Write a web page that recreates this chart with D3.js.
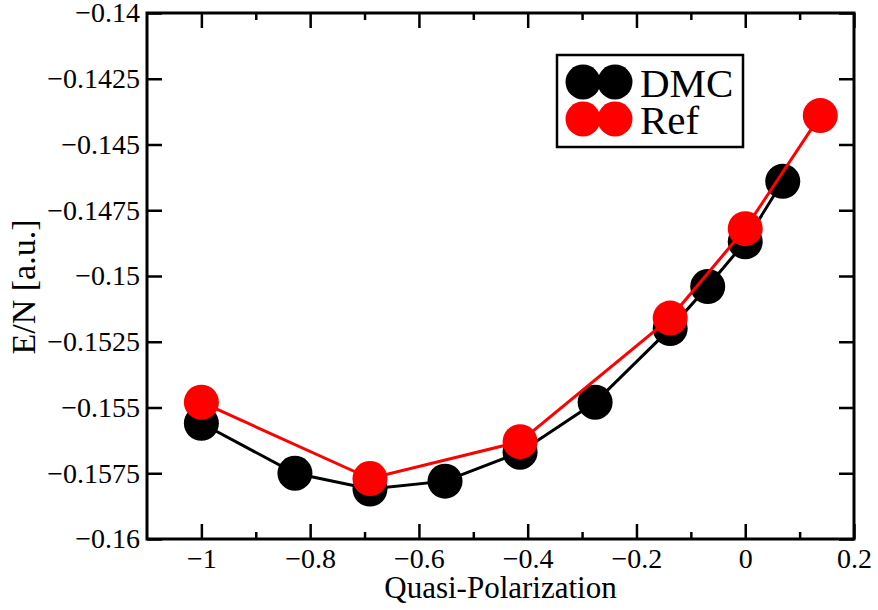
<!DOCTYPE html>
<html>
<head>
<meta charset="utf-8">
<script src="https://cdn.jsdelivr.net/npm/d3@7"></script>
<style>
  html, body { margin: 0; padding: 0; background: #fff; }
</style>
</head>
<body>
<svg id="chart" width="878" height="610"></svg>
<script>
// Energy per particle vs. quasi-polarization
const dmcX = [-1.0, -0.828, -0.690, -0.552, -0.414, -0.276, -0.138, -0.069, 0.0, 0.069];
const dmcY = [-0.1556, -0.1575, -0.1581, -0.1578, -0.1567, -0.1548, -0.1520, -0.1504, -0.1487, -0.1464];
const refX = [-1.0, -0.690, -0.414, -0.138, 0.0, 0.138];
const refY = [-0.1548, -0.1577, -0.1563, -0.1516, -0.1482, -0.1439];

const xTicks = [-1, -0.8, -0.6, -0.4, -0.2, 0, 0.2];
const xMinorTicks = [-0.9, -0.7, -0.5, -0.3, -0.1, 0.1];
const yTicks = [-0.16, -0.1575, -0.155, -0.1525, -0.15, -0.1475, -0.145, -0.1425, -0.14];
const yTickLabels = ["\u22120.16", "\u22120.1575", "\u22120.155", "\u22120.1525", "\u22120.15", "\u22120.1475", "\u22120.145", "\u22120.1425", "\u22120.14"];
const xTickLabels = ["\u22121", "\u22120.8", "\u22120.6", "\u22120.4", "\u22120.2", "0", "0.2"];

const seriesNames = ["DMC", "Ref"];
const seriesColors = ["#000000", "#ff0000"];

const FONT = "'Liberation Serif', 'Times New Roman', serif";
const W = 878, H = 610;
const margin = { left: 147, right: 24, top: 13, bottom: 71 };
const iw = W - margin.left - margin.right;
const ih = H - margin.top - margin.bottom;

const svg = d3.select("#chart");
const g = svg.append("g").attr("transform", `translate(${margin.left},${margin.top})`);

const x = d3.scaleLinear().domain([-1.1, 0.2]).range([0, iw]);
const y = d3.scaleLinear().domain([-0.16, -0.14]).range([ih, 0]);

const major = 15, minor = 7;

// Inward ticks on all four sides
function tickAxis(axisGen, transform) {
  const a = g.append("g").attr("transform", transform).call(axisGen);
  a.attr("font-family", FONT);
  a.select(".domain").remove();
  a.selectAll("line").attr("stroke", "#000").attr("stroke-width", 2.5);
  a.selectAll("text").attr("fill", "#000").attr("font-family", FONT).attr("font-size", 28);
  return a;
}

tickAxis(
  d3.axisBottom(x).tickValues(xTicks).tickSize(-major).tickPadding(9)
    .tickFormat((d, i) => xTickLabels[i]),
  `translate(0,${ih})`);
tickAxis(d3.axisBottom(x).tickValues(xMinorTicks).tickSize(-minor).tickFormat(""), `translate(0,${ih})`);
tickAxis(d3.axisTop(x).tickValues(xTicks).tickSize(-major).tickFormat(""), "translate(0,0)");
tickAxis(d3.axisTop(x).tickValues(xMinorTicks).tickSize(-minor).tickFormat(""), "translate(0,0)");

tickAxis(
  d3.axisLeft(y).tickValues(yTicks).tickSize(-major).tickPadding(7)
    .tickFormat((d, i) => yTickLabels[i]),
  "translate(0,0)");
tickAxis(d3.axisRight(y).tickValues(yTicks).tickSize(-major).tickFormat(""), `translate(${iw},0)`);

// Frame
g.append("rect").attr("x", 0).attr("y", 0).attr("width", iw).attr("height", ih)
  .attr("fill", "none").attr("stroke", "#000").attr("stroke-width", 3);

// Series: connecting line, then filled circle markers
const line = d3.line().x(d => x(d[0])).y(d => y(d[1]));
const series = [d3.zip(dmcX, dmcY), d3.zip(refX, refY)];
series.forEach((pts, k) => {
  g.append("path").datum(pts).attr("d", line)
    .attr("fill", "none").attr("stroke", seriesColors[k]).attr("stroke-width", 3);
  g.selectAll(null).data(pts).enter().append("circle")
    .attr("cx", d => x(d[0])).attr("cy", d => y(d[1])).attr("r", 17.5)
    .attr("fill", seriesColors[k]);
});

// Axis titles
svg.append("text").attr("x", margin.left + x(-0.45)).attr("y", 598)
  .attr("text-anchor", "middle").attr("font-family", FONT).attr("font-size", 31)
  .text("Quasi-Polarization");
svg.append("text").attr("transform", "translate(35,287) rotate(-90)")
  .attr("text-anchor", "middle").attr("font-family", FONT).attr("font-size", 34)
  .text("E/N [a.u.]");

// Legend
const lg = svg.append("g").attr("transform", "translate(557,55)");
lg.append("rect").attr("x", 0).attr("y", 0).attr("width", 186).attr("height", 92)
  .attr("fill", "#fff").attr("stroke", "#000").attr("stroke-width", 2.5);
seriesNames.forEach((name, k) => {
  const cy = 27 + k * 37;
  [26, 58].forEach(cx => {
    lg.append("circle").attr("cx", cx).attr("cy", cy).attr("r", 17.5).attr("fill", seriesColors[k]);
  });
  lg.append("text").attr("x", 83).attr("y", cy + 15).attr("font-family", FONT)
    .attr("font-size", 41).text(name);
});
</script>
</body>
</html>
